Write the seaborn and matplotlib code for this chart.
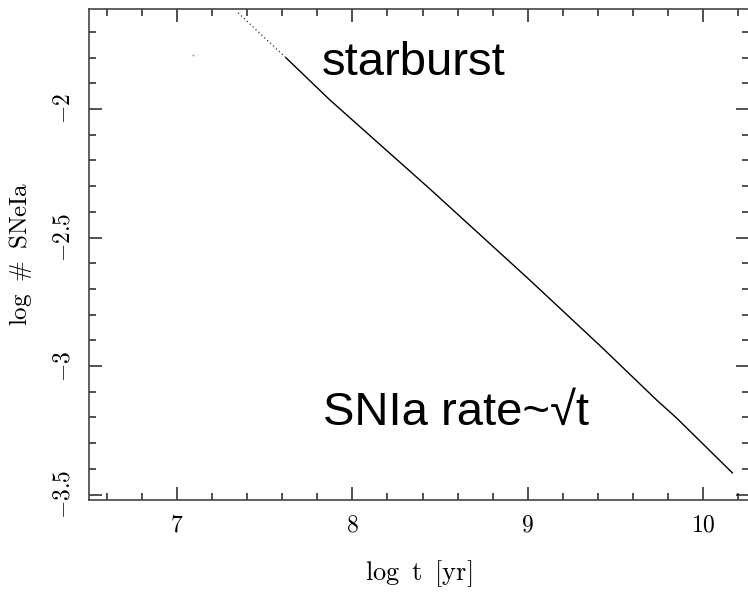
import numpy as np
import pandas as pd
import matplotlib
matplotlib.use("Agg")
import matplotlib.pyplot as plt
from matplotlib.ticker import MultipleLocator, FixedLocator, FixedFormatter
import seaborn as sns

# SNIa count for a starburst, log-log
log_t = [7.348, 7.872, 8.442, 9.011, 9.427, 9.735, 9.849, 10.168]
log_n = [-1.626, -1.965, -2.311, -2.665, -2.930, -3.132, -3.202, -3.416]
# early, sparsely sampled part of the curve
early_t = [7.348, 7.62]
early_n = [-1.626, -1.80]
# lone sample point
dot_t = [7.091]
dot_n = [-1.79]

x_ticks = [7, 8, 9, 10]
x_labels = ["7", "8", "9", "10"]
y_ticks = [-2.0, -2.5, -3.0, -3.5]
y_labels = [r"$-2$", r"$-2.5$", r"$-3$", r"$-3.5$"]

sns.set_style("ticks")
plt.rcParams["mathtext.fontset"] = "cm"
plt.rcParams["axes.unicode_minus"] = False
plt.rcParams["text.color"] = "black"
plt.rcParams["axes.labelcolor"] = "black"
plt.rcParams["xtick.labelcolor"] = "black"
plt.rcParams["ytick.labelcolor"] = "black"

fig = plt.figure(figsize=(7.48, 5.92), dpi=100)
ax = fig.add_axes([88.5 / 748, 1 - 499.5 / 592, (749 - 88.5) / 748, (499.5 - 9) / 592])

df = pd.DataFrame({"t": log_t, "n": log_n})
solid = df[df["t"] >= early_t[1] - 1e-9]
solid = pd.concat([pd.DataFrame({"t": [early_t[1]], "n": [early_n[1]]}), solid])
sns.lineplot(data=solid, x="t", y="n", ax=ax, color="black", lw=1.0, sort=False)
sns.lineplot(x=early_t, y=early_n, ax=ax, color="#333333", lw=0.9,
             linestyle=(0, (1, 2.2)))
sns.scatterplot(x=dot_t, y=dot_n, ax=ax, color="#999999", s=2, linewidth=0)

ax.set_xlim(6.495, 10.262)
ax.set_ylim(-3.519, -1.611)

frame_c = "#444444"
for s in ax.spines.values():
    s.set_color(frame_c)
    s.set_linewidth(1.2)

ax.xaxis.set_major_locator(FixedLocator(x_ticks))
ax.xaxis.set_major_formatter(FixedFormatter([r"$%s$" % l for l in x_labels]))
ax.xaxis.set_minor_locator(MultipleLocator(0.2))
ax.yaxis.set_major_locator(FixedLocator(y_ticks))
ax.yaxis.set_major_formatter(FixedFormatter(y_labels))
ax.yaxis.set_minor_locator(MultipleLocator(0.1))

ax.tick_params(which="both", direction="in", top=True, right=True,
               color="#222222", width=1.1, labelsize=17)
ax.tick_params(which="major", length=9.5)
ax.tick_params(which="minor", length=5)
ax.tick_params(axis="x", which="major", pad=9)
ax.tick_params(axis="y", which="major", pad=10)
for lab in ax.get_yticklabels():
    lab.set_rotation(90)
    lab.set_va("center")

ax.set_xlabel(r"$\mathrm{log\;\;t\;\;[yr]}$", fontsize=19, labelpad=16)
ax.set_ylabel(r"$\mathrm{log\;\;\#\;\;SNeIa}$", fontsize=18, labelpad=12)

ax.text(7.826, -1.868, "starburst", fontsize=34,
        family=["Liberation Sans", "DejaVu Sans"], ha="left", va="baseline")
ax.text(7.832, -3.23, "SNIa rate~\u221at", fontsize=34,
        family=["Liberation Sans", "DejaVu Sans"], ha="left", va="baseline")

fig.savefig("out.png", dpi=100)
